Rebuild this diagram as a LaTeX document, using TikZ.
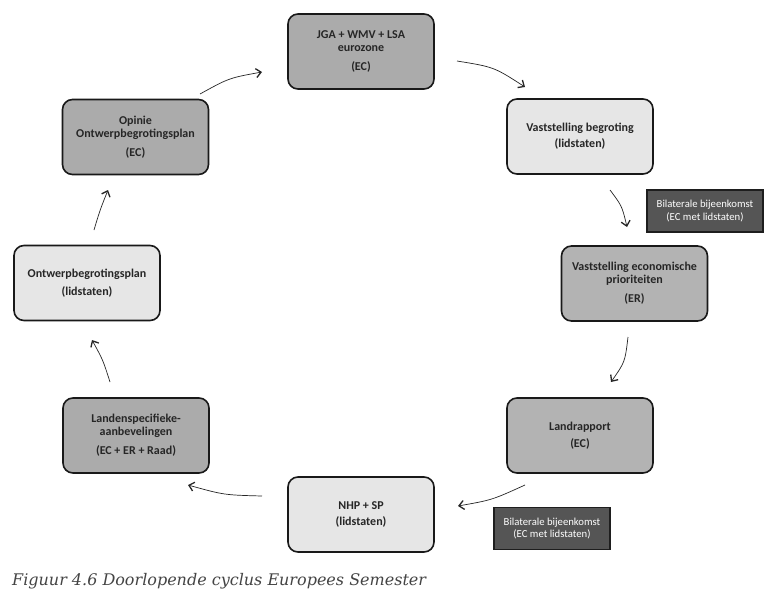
\documentclass[tikz,border=0pt]{standalone}
\usepackage{fontspec}
\setmainfont{Carlito}
\newfontfamily\capfont{DejaVu Serif}
\usetikzlibrary{arrows.meta}
\definecolor{darkbox}{HTML}{ABABAB}
\definecolor{midbox}{HTML}{B3B3B3}
\definecolor{lightbox}{HTML}{E6E6E6}
\definecolor{bilfill}{HTML}{555555}
\definecolor{bildraw}{HTML}{1E1E1E}
\definecolor{captext}{HTML}{444444}
\tikzset{
  stagebox/.style={draw=black!90, line width=1.6pt, rounded corners=10pt,
    minimum width=146pt, minimum height=75pt, align=center,
    font=\fontsize{12}{13}\selectfont\bfseries, text=black!85},
  darkstage/.style={stagebox, fill=darkbox},
  midstage/.style={stagebox, fill=midbox},
  lightstage/.style={stagebox, fill=lightbox},
  bilbox/.style={draw=bildraw, line width=1.8pt, fill=bilfill, text=white,
    minimum width=116pt, minimum height=42pt, align=center,
    font=\fontsize{10.7}{12.5}\selectfont},
  cyclearrow/.style={line width=0.7pt, black!85,
    -{Straight Barb[length=5pt,width=9pt,line width=1.3pt]}},
}
\begin{document}
\begin{tikzpicture}[x=1pt,y=-1pt]
\useasboundingbox (0,0) rectangle (771,600);
\fill[white] (0,0) rectangle (771,600);

\node[darkstage]  (jga)  at (361,51.5)  {JGA + WMV + LSA\\eurozone\\[6pt](EC)};
\node[lightstage] (vb)   at (580,136.5) {Vaststelling begroting\\[3pt](lidstaten)};
\node[midstage]   (vep)  at (634.5,283.5) {Vaststelling economische\\prioriteiten\\[6pt](ER)};
\node[midstage]   (lr)   at (580,435.5) {Landrapport\\[4pt](EC)};
\node[lightstage] (nhp)  at (361,514.5) {NHP + SP\\[3pt](lidstaten)};
\node[darkstage]  (lsa)  at (136,435.5) {Landenspecifieke-\\aanbevelingen\\[6pt](EC + ER + Raad)};
\node[lightstage] (obp)  at (87,283)    {Ontwerpbegrotingsplan\\[5pt](lidstaten)};
\node[darkstage]  (op)   at (135.5,137) {Opinie\\Ontwerpbegrotingsplan\\[6pt](EC)};

\node[bilbox] (bil1) at (705,211) {Bilaterale bijeenkomst\\(EC met lidstaten)};
\node[bilbox] (bil2) at (552,528.5) {Bilaterale bijeenkomst\\(EC met lidstaten)};

% connector end points (arrows float between the boxes)
\coordinate (a1s) at (457,61);  \coordinate (a1e) at (525,87);
\coordinate (a2s) at (610,190); \coordinate (a2e) at (627,227);
\coordinate (a3s) at (628,337); \coordinate (a3e) at (611,382);
\coordinate (a4s) at (525,485); \coordinate (a4e) at (458,506);
\coordinate (a5s) at (262,496); \coordinate (a5e) at (188,485);
\coordinate (a6s) at (110,382); \coordinate (a6e) at (92,340);
\coordinate (a7s) at (94,230);  \coordinate (a7e) at (108,190);
\coordinate (a8s) at (200,94);  \coordinate (a8e) at (262,72);

\draw[cyclearrow] (a1s) .. controls (494,67) .. (a1e);
\draw[cyclearrow] (a2s) .. controls (622,206) .. (a2e);
\draw[cyclearrow] (a3s) .. controls (625,362) .. (a3e);
\draw[cyclearrow] (a4s) .. controls (492,500) .. (a4e);
\draw[cyclearrow] (a5s) .. controls (224,495) .. (a5e);
\draw[cyclearrow] (a6s) .. controls (103,360) .. (a6e);
\draw[cyclearrow] (a7s) .. controls (100,210) .. (a7e);
\draw[cyclearrow] (a8s) .. controls (229,78) .. (a8e);

\node[anchor=base west, inner sep=0pt, text=captext,
  font=\capfont\itshape\fontsize{16}{19}\selectfont] (cap) at (12,585)
  {Figuur 4.6 Doorlopende cyclus Europees Semester};
\end{tikzpicture}
\end{document}
